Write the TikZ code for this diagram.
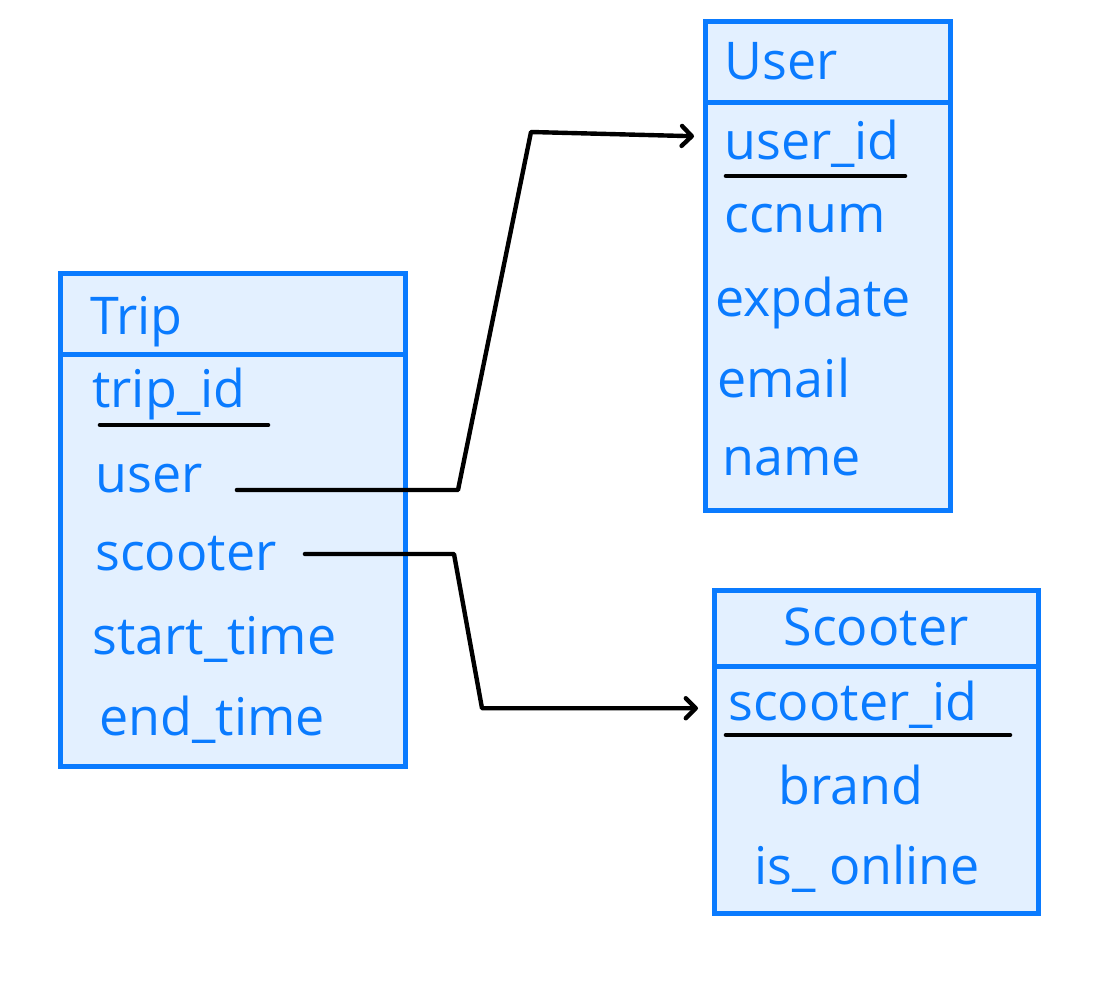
\documentclass[tikz,border=0pt]{standalone}
\usepackage{fontspec}
\setmainfont{Open Sans}
\usetikzlibrary{arrows.meta}
\definecolor{penblue}{RGB}{10,123,255}
\definecolor{paleblue}{RGB}{227,240,255}

\begin{document}
\begin{tikzpicture}[x=0.5pt,y=-0.5pt,
    entity/.style={draw=penblue,fill=paleblue,line width=2.5pt,inner sep=0pt,outer sep=0pt,anchor=north west},
    divider/.style={draw=penblue,line width=2.5pt},
    field/.style={text=penblue,anchor=base west,inner sep=1pt,font=\fontsize{26}{30}\selectfont},
    keyline/.style={line width=2.3pt,line cap=round},
    link/.style={line width=2.2pt,line join=round,line cap=round,-{Straight Barb[length=5pt,width=10pt,round]}}]
    \useasboundingbox (0,0) rectangle (1101,999);

    %Shape: Rectangle [Trip]
    \node[entity,minimum width=172.5pt,minimum height=246pt] (trip) at (60,274) {};
    \draw[divider] (trip.west |- 0,355) -- (trip.east |- 0,355);
    %Shape: Rectangle [User]
    \node[entity,minimum width=122.5pt,minimum height=244pt] (user) at (705,22) {};
    \draw[divider] (user.west |- 0,103) -- (user.east |- 0,103);
    %Shape: Rectangle [Scooter]
    \node[entity,minimum width=162pt,minimum height=161.5pt] (scooter) at (714,590) {};
    \draw[divider] (scooter.west |- 0,666) -- (scooter.east |- 0,666);

    % Text Node
    \node[field] (ttrip) at (88,335) {Trip};
    \node[field] (ftripid) at (90,408) {trip\_id};
    \node[field] (fuser) at (93,492) {user};
    \node[field] (fscooter) at (93,570) {scooter};
    \node[field] (fstart) at (90,654) {start\_time};
    \node[field] (fend) at (97,735) {end\_time};
    % Text Node
    \node[field] (tuser) at (722,80) {User};
    \node[field] (fuserid) at (722,160) {user\_id};
    \node[field] (fccnum) at (722,233) {ccnum};
    \node[field] (fexpdate) at (713,317) {expdate};
    \node[field] (femail) at (715,398) {email};
    \node[field] (fname) at (720,475) {name};
    % Text Node
    \node[field,anchor=base] (tscooter) at (876,645) {Scooter};
    \node[field] (fscooterid) at (726,720) {scooter\_id};
    \node[field] (fbrand) at (776,804) {brand};
    \node[field] (fonline) at (752,884) {is\_ online};

    %Primary key underlines
    \draw[keyline] (100,425) -- (268,425);
    \draw[keyline] (726,176) -- (905,176);
    \draw[keyline] (726,735) -- (1010,735);

    %Connectors
    \coordinate (uout) at ([xshift=16pt,yshift=1pt]fuser.base east);
    \coordinate (uin) at ([xshift=-14pt,yshift=4pt]fuserid.west);
    \draw[link] (uout) -- (uout -| 458,0) -- (531,132) -- (uin);
    \coordinate (sout) at ([xshift=13pt,yshift=8pt]fscooter.base east);
    \coordinate (sin) at ([xshift=-14pt,yshift=-2pt]fscooterid.west);
    \draw[link] (sout) -- (sout -| 454,0) -- (sin -| 482,0) -- (sin);
\end{tikzpicture}
\end{document}
